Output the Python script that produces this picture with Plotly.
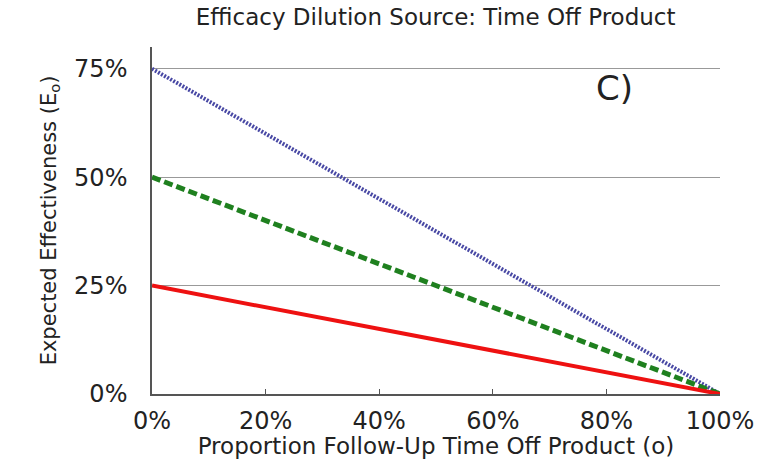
import plotly.graph_objects as go

x_vals = [0, 100]
series_names = ["75% efficacy", "50% efficacy", "25% efficacy"]
blue_vals = [75, 0]
green_vals = [50, 0]
red_vals = [25, 0]
x_ticks = [0, 20, 40, 60, 80, 100]
x_ticktext = ["0%", "20%", "40%", "60%", "80%", "100%"]
y_ticks = [0, 25, 50, 75]
y_ticktext = ["0%", "25%", "50%", "75%"]

FONT = "DejaVu Sans"

fig = go.Figure()
fig.add_trace(go.Scatter(x=x_vals, y=blue_vals, mode="lines", name=series_names[0],
                         line=dict(color="#4848a4", width=4, dash="2px,1.5px")))
fig.add_trace(go.Scatter(x=x_vals, y=green_vals, mode="lines", name=series_names[1],
                         line=dict(color="#1f801f", width=5, dash="9px,4px")))
fig.add_trace(go.Scatter(x=x_vals, y=red_vals, mode="lines", name=series_names[2],
                         line=dict(color="#ee1111", width=4)))

fig.update_layout(
    width=759, height=459,
    margin=dict(l=152, r=39, t=47, b=65),
    paper_bgcolor="white", plot_bgcolor="white",
    showlegend=False,
    font=dict(family=FONT, color="#222222"),
    title=dict(text="Efficacy Dilution Source: Time Off Product",
               x=0.574, xanchor="center", y=0.963, yanchor="middle",
               font=dict(family=FONT, size=23, color="#222222")),
    annotations=[dict(text="C)", x=0.815, y=0.882, xref="paper", yref="paper",
                      xanchor="center", yanchor="middle",
                      showarrow=False, font=dict(family=FONT, size=34, color="#222222"))],
)
fig.update_xaxes(
    range=[0, 100], tickvals=x_ticks, ticktext=x_ticktext,
    automargin=False,
    showgrid=False, zeroline=False,
    showline=True, linecolor="#555555", linewidth=1.5,
    ticks="inside", ticklen=5, tickcolor="#555555",
    ticklabelstandoff=4,
    tickfont=dict(family=FONT, size=24, color="#222222"),
    title=dict(text="Proportion Follow-Up Time Off Product (o)",
               font=dict(family=FONT, size=23, color="#222222"), standoff=4),
)
fig.update_yaxes(
    range=[0, 80], tickvals=y_ticks, ticktext=y_ticktext,
    automargin=False,
    showgrid=True, gridcolor="#999999", gridwidth=1,
    zeroline=False,
    showline=True, linecolor="#555555", linewidth=1.5,
    ticks="", ticklabelstandoff=18,
    tickfont=dict(family=FONT, size=24, color="#222222"),
    title=dict(text="Expected Effectiveness (E<sub>o</sub>)",
               font=dict(family=FONT, size=21, color="#222222"), standoff=12),
)

fig.write_html("out.html")
